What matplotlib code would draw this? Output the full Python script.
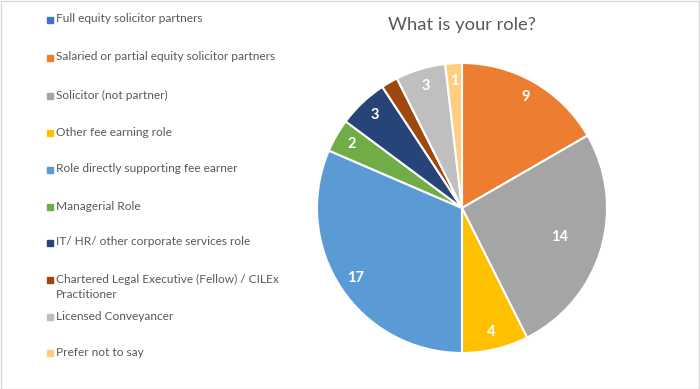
import matplotlib
matplotlib.use("Agg")
import matplotlib.pyplot as plt
from matplotlib.patches import Rectangle
import numpy as np

plt.rcParams["font.family"] = ["Lato", "DejaVu Sans"]

# Data
roles = [
    "Full equity solicitor partners",
    "Salaried or partial equity solicitor partners",
    "Solicitor (not partner)",
    "Other fee earning role",
    "Role directly supporting fee earner",
    "Managerial Role",
    "IT/ HR/ other corporate services role",
    "Chartered Legal Executive (Fellow) / CILEx\nPractitioner",
    "Licensed Conveyancer",
    "Prefer not to say",
]
counts = [0, 9, 14, 4, 17, 2, 3, 1, 3, 1]
colors = ["#4472C4", "#ED7D31", "#A5A5A5", "#FFC000", "#5B9BD5",
          "#70AD47", "#264478", "#9E480E", "#BFBFBF", "#FFCD80"]
# labels not shown on the chart for these slices
hidden = {0, 7}

W, H = 700, 389
fig = plt.figure(figsize=(W / 100, H / 100), dpi=100)

# Pie
ax = fig.add_axes([317 / W, 36 / H, 290 / W, 290 / H])
wedges, _ = ax.pie(counts, colors=colors, startangle=90, counterclock=False,
                   wedgeprops=dict(edgecolor="white", linewidth=1.5))
ax.set_xlim(-1, 1)
ax.set_ylim(-1, 1)
ax.set_aspect("equal")

for i, w in enumerate(wedges):
    if i in hidden or counts[i] == 0:
        continue
    ang = np.deg2rad((w.theta1 + w.theta2) / 2)
    d = 0.70 if counts[i] == 14 else 0.88
    ax.text(d * np.cos(ang), d * np.sin(ang), str(counts[i]),
            ha="center", va="center", color="white",
            fontsize=10.5, fontweight="bold")

fig.text(462 / W, 1 - 25 / H, "What is your role?", ha="center", va="center",
         fontsize=13.2, color="#595959")

# Legend drawn by hand to match spacing
legend_y = [20, 58, 96, 133, 170, 207, 243, 280, 317, 353]
for lab, col, y in zip(roles, colors, legend_y):
    fig.patches.append(Rectangle((47 / W, 1 - (y + 3) / H), 6 / W, 6 / H,
                                 transform=fig.transFigure, color=col))
    fig.text(56 / W, 1 - (y - 6.5) / H, lab, ha="left", va="top",
             fontsize=8.6, color="#595959", linespacing=1.5)

# Border
fig.patches.append(Rectangle((0.5 / W, 0.5 / H), 1 - 1.5 / W, 1 - 1.5 / H,
                             transform=fig.transFigure, fill=False,
                             edgecolor="#D9D9D9", linewidth=1))

fig.savefig("out.png", dpi=100)
